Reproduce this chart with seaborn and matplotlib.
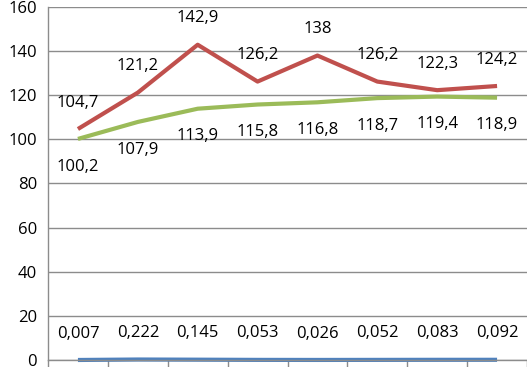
import numpy as np
import pandas as pd
import matplotlib
matplotlib.use("Agg")
import matplotlib.pyplot as plt
import seaborn as sns

# values
positions = list(range(8))
red_vals = [104.7, 121.2, 142.9, 126.2, 138, 126.2, 122.3, 124.2]
green_vals = [100.2, 107.9, 113.9, 115.8, 116.8, 118.7, 119.4, 118.9]
blue_vals = [0.007, 0.222, 0.145, 0.053, 0.026, 0.052, 0.083, 0.092]
y_ticks = [0, 20, 40, 60, 80, 100, 120, 140, 160]

series_names = ['red', 'green', 'blue']
palette = {'red': '#C0504D', 'green': '#9BBB59', 'blue': '#4F81BD'}

df = pd.DataFrame({
    'pos': positions * 3,
    'value': red_vals + green_vals + blue_vals,
    'series': [s for s in series_names for _ in positions],
})

sns.set_style("white")
plt.rcParams['font.family'] = ['Open Sans', 'DejaVu Sans']

fig = plt.figure(figsize=(5.27, 3.67), dpi=100)
ax = fig.add_axes([48 / 527, 7 / 367, 479 / 527, 353 / 367])

sns.lineplot(data=df, x='pos', y='value', hue='series', palette=palette,
             hue_order=series_names, linewidth=3, legend=False, ax=ax)
for line in ax.lines:
    line.set_clip_on(False)
    line.set_solid_capstyle('butt')

ax.set_xlim(-0.5, 7.5)
ax.set_ylim(0, 160)
ax.set_yticks(y_ticks)
ax.set_xticks(np.arange(-0.5, 8, 1))
ax.set_xticklabels([])
ax.set_xlabel(None)
ax.set_ylabel(None)

ax.grid(axis='y', color='#8c8c8c', linewidth=1)
ax.set_axisbelow(True)
for side in ['top', 'right']:
    ax.spines[side].set_visible(False)
for side in ['left', 'bottom']:
    ax.spines[side].set_color('#8c8c8c')
    ax.spines[side].set_linewidth(1)
ax.tick_params(axis='both', direction='out', length=5, color='#8c8c8c',
               width=1, labelsize=12, labelcolor='black')
ax.tick_params(axis='y', pad=3)
ax.tick_params(axis='x', bottom=True)

def fmt(v):
    return ('%g' % v).replace('.', ',')

# data labels: red and blue above, green below
for vals, dy in [(red_vals, 19), (blue_vals, 19), (green_vals, -20)]:
    for x, v in zip(positions, vals):
        ax.annotate(fmt(v), (x, v), xytext=(0, dy), textcoords='offset points',
                    ha='center', va='center', fontsize=12, color='black',
                    annotation_clip=False)

plt.savefig('out.png', dpi=100)
